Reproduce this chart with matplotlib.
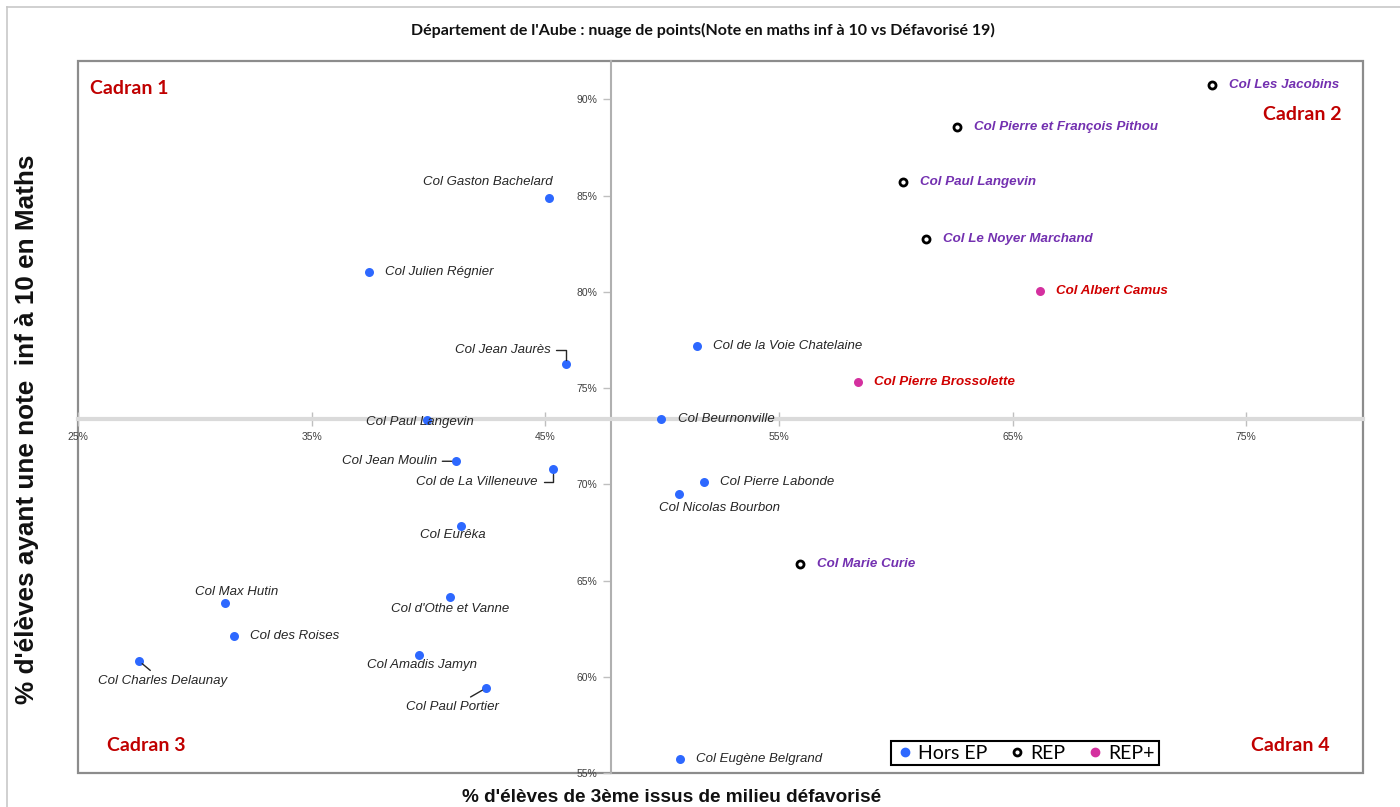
import matplotlib
matplotlib.use('Agg')
import matplotlib.pyplot as plt
from matplotlib.patches import Rectangle
from matplotlib.lines import Line2D
from matplotlib.ticker import FixedLocator, FuncFormatter

# ---------------- data ----------------
hors_names = ["Col Gaston Bachelard", "Col Julien Régnier", "Col Jean Jaurès", "Col Paul Langevin",
              "Col Jean Moulin", "Col de La Villeneuve", "Col Eurêka", "Col Max Hutin",
              "Col d'Othe et Vanne", "Col des Roises", "Col Charles Delaunay", "Col Amadis Jamyn",
              "Col Paul Portier", "Col de la Voie Chatelaine", "Col Beurnonville", "Col Pierre Labonde",
              "Col Nicolas Bourbon", "Col Eugène Belgrand"]
hors_x = [0.4515, 0.3745, 0.4588, 0.3993, 0.4117, 0.4533, 0.4139, 0.3129, 0.4092, 0.3168,
          0.2761, 0.3959, 0.4246, 0.5149, 0.4995, 0.5179, 0.5072, 0.5076]
hors_y = [0.8490, 0.8101, 0.7624, 0.7333, 0.7120, 0.7078, 0.6782, 0.6383, 0.6414, 0.6211,
          0.6082, 0.6113, 0.5941, 0.7717, 0.7338, 0.7011, 0.6949, 0.5573]

rep_names = ["Col Les Jacobins", "Col Pierre et François Pithou", "Col Paul Langevin",
             "Col Le Noyer Marchand", "Col Marie Curie"]
rep_x = [0.7352, 0.6261, 0.6030, 0.6129, 0.5589]
rep_y = [0.9077, 0.8859, 0.8569, 0.8273, 0.6585]

repp_names = ["Col Albert Camus", "Col Pierre Brossolette"]
repp_x = [0.6616, 0.5838]
repp_y = [0.8003, 0.7530]

x_cross = 0.4781   # vertical axis crossing
y_cross = 0.7338   # horizontal axis crossing

x_ticks = [0.25, 0.35, 0.45, 0.55, 0.65, 0.75]
y_ticks = [0.55, 0.60, 0.65, 0.70, 0.75, 0.80, 0.85, 0.90]

title = "Département de l'Aube : nuage de points(Note en maths inf à 10 vs Défavorisé 19)"
xlabel = "% d'élèves de 3ème issus de milieu défavorisé"
ylabel = "% d'élèves ayant une note  inf à 10 en Maths"
legend_labels = ["Hors EP", "REP", "REP+"]
cadrans = ["Cadran 1", "Cadran 2", "Cadran 3", "Cadran 4"]

# label offsets in pixels (dx, dy, ha, leader)
hors_off = [(4, 16, 'right', None), (16, 0, 'left', None), (-15, 14, 'right', 'elbow'),
            (-7, -2, 'center', None), (-19, 0, 'right', 'line'), (-15, -13, 'right', 'elbow'),
            (-8, -9, 'center', None), (12, 11, 'center', None), (0, -12, 'center', None),
            (16, 0, 'left', None), (24, -20, 'center', 'line'), (3, -10, 'center', None),
            (-33, -19, 'center', 'line'), (16, 0, 'left', None), (17, 0, 'left', None),
            (16, 0, 'left', None), (41, -14, 'center', None), (16, 0, 'left', None)]
rep_off = [(17, 0, 'left', None)] * 5
repp_off = [(16, 0, 'left', None)] * 2

C_BLUE = '#2D68FF'
C_MAG = '#D4309F'
C_PURPLE = '#7330B0'
C_RED = '#D00000'
C_CADRAN = '#C00000'

# ---------------- figure ----------------
fig = plt.figure(figsize=(14, 8.07), dpi=100)
W, H = 1400, 807
ax = fig.add_axes([78 / W, 1 - 773 / H, (1363 - 78) / W, (773 - 61) / H])
ax.set_xlim(0.25, 0.80)
ax.set_ylim(0.55, 0.92)

for s in ['top', 'right']:
    ax.spines[s].set_visible(False)
ax.spines['left'].set_position(('data', x_cross))
ax.spines['bottom'].set_position(('data', y_cross))
ax.spines['left'].set_color('#B0B0B0')
ax.spines['left'].set_linewidth(1.5)
ax.spines['bottom'].set_color('#DADADA')
ax.spines['bottom'].set_linewidth(3)

ax.add_patch(Rectangle((0, 0), 1, 1, transform=ax.transAxes, fill=False,
                       edgecolor='#8C8C8C', lw=1.6, clip_on=False, zorder=1))

pct = FuncFormatter(lambda v, p: f"{v * 100:.0f}%")
ax.xaxis.set_major_locator(FixedLocator(x_ticks))
ax.yaxis.set_major_locator(FixedLocator(y_ticks))
ax.xaxis.set_major_formatter(pct)
ax.yaxis.set_major_formatter(pct)
ax.tick_params(axis='x', direction='inout', length=10, width=1, color='#BFBFBF',
               labelsize=7.5, labelcolor='#404040', pad=4)
ax.tick_params(axis='y', direction='out', length=6, width=1, color='#BFBFBF',
               labelsize=7.5, labelcolor='#404040', pad=4)
for lab in ax.get_xticklabels() + ax.get_yticklabels():
    lab.set_family('Liberation Sans')

# points
ax.scatter(hors_x, hors_y, s=42, c=C_BLUE, linewidths=0, zorder=5)
ax.scatter(rep_x, rep_y, s=26, facecolors='white', edgecolors='black', linewidths=2, zorder=5)
ax.scatter(repp_x, repp_y, s=42, c=C_MAG, linewidths=0, zorder=5)


def put_labels(names, xs, ys, offs, color, weight, size):
    for n, x, y, (dx, dy, ha, leader) in zip(names, xs, ys, offs):
        kw = {}
        if leader == 'elbow':
            kw['arrowprops'] = dict(arrowstyle='-', color='#262626', lw=1,
                                    connectionstyle='angle,angleA=0,angleB=90,rad=0',
                                    shrinkA=2, shrinkB=3)
        elif leader == 'line':
            kw['arrowprops'] = dict(arrowstyle='-', color='#262626', lw=1,
                                    shrinkA=2, shrinkB=3)
        ax.annotate(n, (x, y), xytext=(dx, dy), textcoords='offset pixels',
                    ha=ha, va='center', fontsize=size, style='italic', weight=weight,
                    color=color, family='Liberation Sans', zorder=6, **kw)


put_labels(hors_names, hors_x, hors_y, hors_off, '#262626', 'normal', 9.5)
put_labels(rep_names, rep_x, rep_y, rep_off, C_PURPLE, 'bold', 9.6)
put_labels(repp_names, repp_x, repp_y, repp_off, C_RED, 'bold', 9.6)

# cadrans
cad_font = dict(color=C_CADRAN, fontsize=14, weight='bold', family='Lato', va='center',
                transform=ax.transAxes)
ax.text(0.0093, 0.961, cadrans[0], ha='left', **cad_font)
ax.text(0.9835, 0.925, cadrans[1], ha='right', **cad_font)
ax.text(0.0226, 0.038, cadrans[2], ha='left', **cad_font)
ax.text(0.974, 0.038, cadrans[3], ha='right', **cad_font)

# legend
handles = [Line2D([], [], ls='none', marker='o', ms=6, mfc=C_BLUE, mec=C_BLUE),
           Line2D([], [], ls='none', marker='o', ms=5, mfc='white', mec='black', mew=2),
           Line2D([], [], ls='none', marker='o', ms=6, mfc=C_MAG, mec=C_MAG)]
leg = ax.legend(handles, legend_labels, loc='center', bbox_to_anchor=(0.737, 0.028),
                ncol=3, frameon=True, fancybox=False, edgecolor='black', framealpha=1,
                prop={'family': 'Lato', 'size': 14}, handletextpad=0.2, columnspacing=1.0,
                handlelength=1.0, borderpad=0.2)
leg.get_frame().set_linewidth(1.5)
leg.set_zorder(10)

# titles
fig.text(703 / W, 1 - 30 / H, title, ha='center', va='center', fontsize=11.5,
         weight='bold', family='Lato', color='#111111')
fig.text(672 / W, 1 - 797 / H, xlabel, ha='center', va='center', fontsize=13.7,
         weight='bold', family='Liberation Sans', color='#111111')
fig.text(27 / W, 1 - 429 / H, ylabel, ha='center', va='center', rotation=90, fontsize=18.8,
         weight='bold', family='Liberation Sans', color='#111111')

# outer chart-area border (top and left)
fig.add_artist(Line2D([7 / W, 1.0], [1 - 7 / H, 1 - 7 / H], transform=fig.transFigure,
                      color='#C8C8C8', lw=1.2))
fig.add_artist(Line2D([7 / W, 7 / W], [0, 1 - 7 / H], transform=fig.transFigure,
                      color='#C8C8C8', lw=1.2))

fig.savefig('out.png', dpi=100, facecolor='white')
